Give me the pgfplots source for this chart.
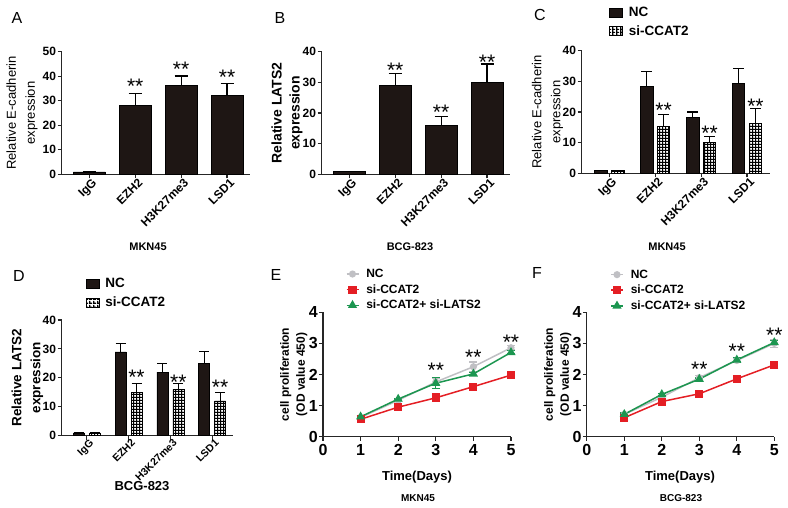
\documentclass[border=0pt]{standalone}
\usepackage{fontspec}
\setmainfont{Liberation Sans}
\usepackage{pgfplots}
\pgfplotsset{compat=1.18}
\usetikzlibrary{patterns.meta}
\newcommand\fs[2]{\fontsize{#1}{#2}\selectfont}
\definecolor{barcol}{RGB}{30,22,20}
\definecolor{ncgray}{RGB}{192,192,196}
\definecolor{myred}{RGB}{228,30,36}
\definecolor{mygreen}{RGB}{28,150,80}
\pgfdeclarepattern{
  name=gridsq, type=uncolored,
  bottom left={\pgfpoint{0pt}{0pt}}, top right={\pgfpoint{3.4pt}{3.4pt}},
  tile size={\pgfpoint{3.4pt}{3.4pt}},
  code={
    \pgfpathrectangle{\pgfpoint{0pt}{0pt}}{\pgfpoint{3.4pt}{1.4pt}}
    \pgfpathrectangle{\pgfpoint{0pt}{0pt}}{\pgfpoint{1.4pt}{3.4pt}}
    \pgfusepath{fill}
  }
}
\pgfplotsset{
  basestyle/.style={
    scale only axis, anchor=south west,
    axis x line*=bottom, axis y line*=left,
    axis line style={line width=1.1pt, black!85, -},
    tick style={line width=1.1pt, black!85},
    tick align=outside, major tick length=4pt,
    clip=false,
    /pgf/number format/assume math mode=true,
    ylabel style={align=center, anchor=center},
  },
  barstyle/.style={basestyle, xmin=-0.6, xmax=3.5, ymin=0,
    xtick={0,1,2,3}, xticklabels={IgG,EZH2,H3K27me3,LSD1},
    xticklabel style={rotate=45, anchor=north east, inner sep=1pt, xshift=3pt, font=\bfseries\fs{12}{14}},
    yticklabel style={inner sep=1.5pt, font=\bfseries\fs{12}{14}},
  },
  linestyle/.style={basestyle, xmin=0, xmax=5, ymin=0, ymax=4,
    xtick={0,1,2,3,4,5}, ytick={0,1,2,3,4},
    ticklabel style={font=\bfseries\fs{16}{16}},
    yticklabel style={inner sep=1pt},
    legend style={draw=none, fill=none, anchor=north west, inner sep=0pt,
      font=\bfseries\fs{12}{13}, row sep=1.5pt, column sep=5pt, nodes={inner sep=2pt}},
    legend cell align=left,
  },
  barleg/.style={legend image code/.code={\draw[##1] (0pt,-4.5pt) rectangle (13pt,4.5pt);}},
  lineleg/.style={legend image code/.code={\draw[mark repeat=2,mark phase=2,##1] plot coordinates {(0pt,0pt) (6pt,0pt) (12pt,0pt)};}},
  ebar/.style={error bars/y dir=plus, error bars/y explicit,
    error bars/error bar style={black, line width=1.1pt},
    error bars/error mark options={rotate=90, mark size=#1, black, line width=1.1pt}},
  ncbar/.style={ybar, bar shift=0pt, fill=barcol, draw=black, line width=0.6pt, ebar=#1, barleg},
  sibar/.style={ybar, bar shift=0pt, fill=white, draw=black, line width=0.6pt, postaction={pattern=gridsq}, ebar=#1, barleg},
  lebar/.style={error bars/y dir=both, error bars/y explicit,
    error bars/error bar style={line width=1.2pt},
    error bars/error mark options={rotate=90, mark size=4pt, line width=1.2pt}},
  ncline/.style={color=ncgray, line width=1.5pt, mark=*, mark size=2.8pt, lebar, lineleg},
  redline/.style={color=myred, line width=1.5pt, mark=square*, mark size=3.3pt, lebar, lineleg},
  greenline/.style={color=mygreen, line width=1.5pt, mark=triangle*, mark size=3.8pt, lebar, lineleg},
}
\tikzset{st/.style={anchor=north, inner sep=0pt, font=\fs{21}{21}},
  lett/.style={inner sep=0pt, font=\fs{16}{16}},
  sub/.style={inner sep=0pt, font=\bfseries\fs{11}{11}}}
\begin{document}
\begin{tikzpicture}
\path[use as bounding box] (0pt,0pt) rectangle (788pt,508pt);
% ---------------- A
\begin{axis}[barstyle, at={(61.7pt,333.7pt)}, width=188.3pt, height=122.6pt,
  ymax=50, ytick={0,10,20,30,40,50},
  ylabel={Relative E-cadherin\\expression},
  ylabel style={at={(axis description cs:-0.211,0.5)}, font=\fs{13}{19}}]
\addplot[ncbar=6.5pt, bar width=32pt] coordinates {(0,1) +- (0,0) (1,28) +- (0,5) (2,36.1) +- (0,4) (3,32.1) +- (0,4.9)};
\node[st] at (axis cs:1,38.9) {**};
\node[st] at (axis cs:2,45.7) {**};
\node[st] at (axis cs:3,42.5) {**};
\end{axis}
% ---------------- B
\begin{axis}[barstyle, at={(321.7pt,333.7pt)}, width=188.3pt, height=122.6pt,
  ymax=40, ytick={0,10,20,30,40},
  ylabel={Relative LATS2\\expression},
  ylabel style={at={(axis description cs:-0.184,0.5)}, font=\bfseries\fs{14}{18}}]
\addplot[ncbar=6.5pt, bar width=32pt] coordinates {(0,1) +- (0,0) (1,29) +- (0,4) (2,16) +- (0,3) (3,30) +- (0,6)};
\node[st] at (axis cs:1,36.4) {**};
\node[st] at (axis cs:2,22.6) {**};
\node[st] at (axis cs:3,39.1) {**};
\end{axis}
% ---------------- C
\begin{axis}[barstyle, at={(581.7pt,334.7pt)}, width=188.3pt, height=122.6pt,
  ymax=40, ytick={0,10,20,30,40},
  ylabel={Relative E-cadherin\\expression},
  ylabel style={at={(axis description cs:-0.182,0.5)}, font=\fs{13}{19}},
  legend style={at={(axis description cs:0.145,1.37)}, anchor=north west, draw=none, fill=none,
    inner sep=0pt, font=\bfseries\fs{13.5}{14}, row sep=3pt, column sep=4pt, nodes={inner sep=2pt}},
  legend cell align=left]
\addplot[ncbar=5.5pt, bar width=12.3pt] coordinates {(-0.183,1) +- (0,0) (0.817,28.3) +- (0,4.9) (1.817,18.2) +- (0,1.8) (2.817,29.3) +- (0,4.9)};
\addlegendentry{NC}
\addplot[sibar=5.5pt, bar width=12.3pt] coordinates {(0.183,1) +- (0,0) (1.183,15.2) +- (0,4) (2.183,10.2) +- (0,1.8) (3.183,16.2) +- (0,4.8)};
\addlegendentry{si-CCAT2}
\node[st] at (axis cs:1.183,23.0) {**};
\node[st] at (axis cs:2.183,15.6) {**};
\node[st] at (axis cs:3.183,24.3) {**};
\end{axis}
% ---------------- D
\begin{axis}[barstyle, at={(61.7pt,72.3pt)}, width=171.3pt, height=115.7pt,
  ymax=40, ytick={0,10,20,30,40},
  xticklabel style={font=\bfseries\fs{10.5}{12}, inner sep=0.5pt},
  ylabel={Relative LATS2\\expression},
  ylabel style={at={(axis description cs:-0.2,0.5)}, font=\bfseries\fs{13.5}{19}},
  legend style={at={(axis description cs:0.14,1.38)}, anchor=north west, draw=none, fill=none,
    inner sep=0pt, font=\bfseries\fs{13.5}{14}, row sep=4pt, column sep=4pt, nodes={inner sep=2pt}},
  legend cell align=left]
\addplot[ncbar=5pt, bar width=11pt] coordinates {(-0.191,1) +- (0,0) (0.809,29) +- (0,3) (1.809,22) +- (0,3) (2.809,25) +- (0,4)};
\addlegendentry{NC}
\addplot[sibar=5pt, bar width=11pt] coordinates {(0.191,1) +- (0,0) (1.191,15) +- (0,3) (2.191,16) +- (0,2) (3.191,12) +- (0,3)};
\addlegendentry{si-CCAT2}
\node[st] at (axis cs:1.19,22.6) {**};
\node[st] at (axis cs:2.19,20.9) {**};
\node[st] at (axis cs:3.19,19.3) {**};
\end{axis}
% ---------------- E
\begin{axis}[linestyle, at={(323pt,71.3pt)}, width=188pt, height=124.4pt,
  ylabel={cell proliferation\\(OD value 450)},
  ylabel style={at={(axis description cs:-0.155,0.5)}, font=\bfseries\fs{12}{16}},
  legend style={at={(axis description cs:0.12,1.365)}}]
\addplot[ncline] coordinates {(1,0.62) +- (0,0.03) (2,1.17) +- (0,0.03) (3,1.76) +- (0,0.1) (4,2.25) +- (0,0.15) (5,2.86) +- (0,0.06)};
\addlegendentry{NC}
\addplot[redline] coordinates {(1,0.56) +- (0,0.03) (2,0.95) +- (0,0.04) (3,1.25) +- (0,0.13) (4,1.61) +- (0,0.06) (5,1.98) +- (0,0.04)};
\addlegendentry{si-CCAT2}
\addplot[greenline] coordinates {(1,0.64) +- (0,0.03) (2,1.21) +- (0,0.03) (3,1.72) +- (0,0.18) (4,2.02) +- (0,0.04) (5,2.71) +- (0,0.05)};
\addlegendentry{si-CCAT2+ si-LATS2}
\node[st] at (axis cs:3,2.36) {**};
\node[st] at (axis cs:4,2.79) {**};
\node[st] at (axis cs:5,3.26) {**};
\end{axis}
% ---------------- F
\begin{axis}[linestyle, at={(586.8pt,71.3pt)}, width=187.5pt, height=124.4pt,
  ylabel={cell proliferation\\(OD value 450)},
  ylabel style={at={(axis description cs:-0.155,0.5)}, font=\bfseries\fs{12}{16}},
  legend style={at={(axis description cs:0.124,1.36)}}]
\addplot[ncline] coordinates {(1,0.72) +- (0,0.05) (2,1.27) +- (0,0.04) (3,1.9) +- (0,0.06) (4,2.45) +- (0,0.06) (5,3.0) +- (0,0.12)};
\addlegendentry{NC}
\addplot[redline] coordinates {(1,0.61) +- (0,0.09) (2,1.13) +- (0,0.05) (3,1.38) +- (0,0.08) (4,1.86) +- (0,0.11) (5,2.31) +- (0,0.11)};
\addlegendentry{si-CCAT2}
\addplot[greenline] coordinates {(1,0.72) +- (0,0.04) (2,1.36) +- (0,0.03) (3,1.85) +- (0,0.04) (4,2.47) +- (0,0.07) (5,3.03) +- (0,0.07)};
\addlegendentry{si-CCAT2+ si-LATS2}
\node[st] at (axis cs:3,2.40) {**};
\node[st] at (axis cs:4,3.0) {**};
\node[st] at (axis cs:5,3.51) {**};
\end{axis}
% ---------------- letters and captions
\node[lett] at (17pt,490pt) {A};
\node[lett] at (280pt,490pt) {B};
\node[lett] at (540pt,493pt) {C};
\node[lett] at (19pt,232pt) {D};
\node[lett] at (276pt,233pt) {E};
\node[lett] at (537pt,235pt) {F};
\node[sub] at (148pt,261pt) {MKN45};
\node[sub] at (410pt,261pt) {BCG-823};
\node[sub] at (667pt,261pt) {MKN45};
\node[sub, font=\bfseries\fs{13}{13}] at (142pt,22pt) {BCG-823};
\node[inner sep=0pt, font=\bfseries\fs{13}{13}] at (417pt,31pt) {Time(Days)};
\node[inner sep=0pt, font=\bfseries\fs{13}{13}] at (680pt,31pt) {Time(Days)};
\node[sub, font=\bfseries\fs{10}{10}] at (418pt,10pt) {MKN45};
\node[sub, font=\bfseries\fs{10}{10}] at (681pt,10pt) {BCG-823};
\end{tikzpicture}
\end{document}
